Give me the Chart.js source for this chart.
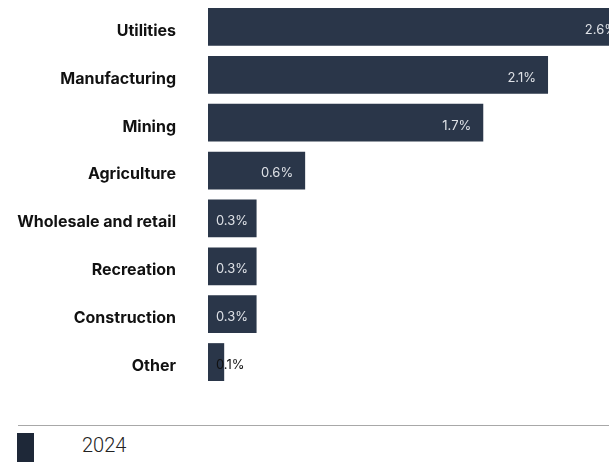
<!DOCTYPE html>
<html>
<head>
<meta charset="utf-8">
<script src="https://cdn.jsdelivr.net/npm/chart.js@4.4.1/dist/chart.umd.min.js"></script>
<style>
  html, body { margin: 0; padding: 0; background: #fff; overflow: hidden; }
  #chart-container { position: relative; width: 629px; height: 390px; }
  #legend { position: absolute; left: 18px; top: 425px; width: 620px; border-top: 1px solid #a8a8a8; }
  .legend-item { display: flex; align-items: flex-start; height: 37px; }
  .legend-box { width: 17px; height: 30px; margin-left: -1px; margin-top: 7px; }
  .legend-text { margin-left: 48px; margin-top: 8px; font-family: Roboto, sans-serif; font-weight: 300; font-size: 20px; line-height: 22px; color: #222; }
</style>
</head>
<body>
<div id="chart-container"><canvas id="bar-chart"></canvas></div>
<div id="legend"></div>
<script>
const categories = ['Utilities', 'Manufacturing', 'Mining', 'Agriculture', 'Wholesale and retail', 'Recreation', 'Construction', 'Other'];
const values2024 = [2.6, 2.1, 1.7, 0.6, 0.3, 0.3, 0.3, 0.1];
const seriesLabel = '2024';

const BAR_COLOR = '#2a3649';
const LEGEND_COLOR = '#1e2838';

// Draws the value labels inside the bar ends
const barLabelPlugin = {
  id: 'barLabels',
  afterDatasetsDraw(chart) {
    const ctx = chart.ctx;
    const meta = chart.getDatasetMeta(0);
    ctx.save();
    ctx.font = '13px Inter, sans-serif';
    ctx.textBaseline = 'middle';
    meta.data.forEach(function(bar, i) {
      const text = values2024[i].toFixed(1) + '%';
      const w = ctx.measureText(text).width;
      const x = Math.max(bar.x - 12 - w, bar.base + 8);
      ctx.fillStyle = (x + w > bar.x) ? '#111' : '#dfe2e7';
      ctx.fillText(text, x, bar.y + 3);
    });
    ctx.restore();
  }
};

const chart = new Chart(document.getElementById('bar-chart').getContext('2d'), {
  type: 'bar',
  data: {
    labels: categories,
    datasets: [{
      label: seriesLabel,
      data: values2024,
      backgroundColor: BAR_COLOR,
      borderWidth: 0,
      barPercentage: 0.79,
      categoryPercentage: 1
    }]
  },
  options: {
    indexAxis: 'y',
    responsive: true,
    maintainAspectRatio: false,
    animation: false,
    layout: { padding: { top: 3, bottom: 4, right: 0, left: 0 } },
    scales: {
      x: { display: false, min: 0, max: 2.6 },
      y: {
        grid: { display: false, drawTicks: false },
        border: { display: false },
        ticks: {
          padding: 32,
          labelOffset: 4,
          color: '#111',
          font: { family: 'Inter, sans-serif', size: 16, weight: '700' }
        },
        afterFit(scale) {
          scale.width = 208;
          // tick padding would otherwise add space above and below the bars
          scale.paddingTop = 0;
          scale.paddingBottom = 0;
        }
      }
    },
    plugins: {
      legend: { display: false },
      tooltip: { enabled: false }
    }
  },
  plugins: [barLabelPlugin]
});

// HTML legend built from the dataset
const legendEl = document.getElementById('legend');
chart.data.datasets.forEach(function(ds) {
  const item = document.createElement('div');
  item.className = 'legend-item';
  const box = document.createElement('span');
  box.className = 'legend-box';
  box.style.background = LEGEND_COLOR;
  const txt = document.createElement('span');
  txt.className = 'legend-text';
  txt.textContent = ds.label;
  item.appendChild(box);
  item.appendChild(txt);
  legendEl.appendChild(item);
});
</script>
</body>
</html>
